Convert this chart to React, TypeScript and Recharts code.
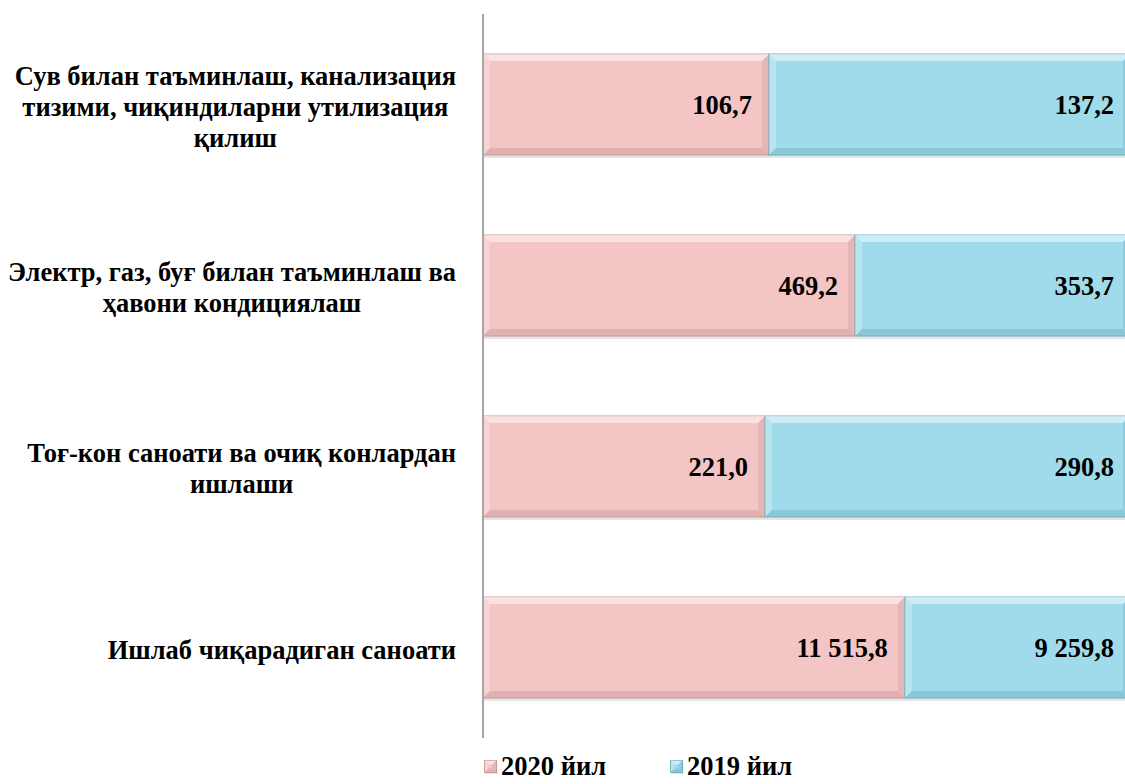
import React from 'react'
import { Bar, BarChart, XAxis, YAxis, LabelList } from 'recharts'

const categories = [
  ['Сув билан таъминлаш, канализация', 'тизими, чиқиндиларни утилизация', 'қилиш'],
  ['Электр, газ, буғ билан таъминлаш ва', 'ҳавони кондициялаш'],
  ['Тоғ-кон саноати ва очиқ конлардан', 'ишлаши'],
  ['Ишлаб чиқарадиган саноати'],
]

// bar shares (%) as drawn in the picture
const share2020 = [44.2, 57.5, 43.6, 65.2]
const share2019 = [55.8, 42.5, 56.4, 34.8]

// printed values
const labels2020 = ['106,7', '469,2', '221,0', '11 515,8']
const labels2019 = ['137,2', '353,7', '290,8', '9 259,8']

const series = [
  { key: 'y2020', name: '2020 йил', color: '#f4c5c5', dark: '#c99a9a' },
  { key: 'y2019', name: '2019 йил', color: '#a0dbeb', dark: '#6fb0c2' },
]

const FONT = '"Liberation Serif"'
const FS = 26.5

const data = categories.map((lines, i) => ({
  name: String(i),
  y2020: share2020[i],
  y2019: share2019[i],
  l2020: labels2020[i],
  l2019: labels2019[i],
}))

let ctx: CanvasRenderingContext2D | null = null
function textWidth(s: string, font: string) {
  if (!ctx) ctx = document.createElement('canvas').getContext('2d')
  if (!ctx) return s.length * 12
  ctx.font = font
  return ctx.measureText(s).width
}

const CategoryTick = (props: any) => {
  const { x, y, payload } = props
  const lines: string[] = categories[Number(payload.value)]
  const font = `bold ${FS}px ${FONT}`
  const widths = lines.map((l) => textWidth(l, font))
  const block = Math.max(...widths)
  const right = x - 19
  const cx = right - block / 2
  const lh = 31
  const top = y - ((lines.length - 1) * lh) / 2 + 5
  return (
    <text fontFamily="Liberation Serif" fontWeight="bold" fontSize={FS} fill="#000" textAnchor="middle">
      {lines.map((l, i) => (
        <tspan key={i} x={cx} y={top + i * lh} dominantBaseline="middle">
          {l}
        </tspan>
      ))}
    </text>
  )
}

const bevel = (color: string, dark: string) => (props: any) => {
  const { x, y, width, height } = props
  if (!width || width <= 0) return null
  const b = Math.min(7, width / 3)
  return (
    <g>
      <rect x={x + 1} y={y + 3} width={width} height={height} fill="#000" opacity={0.1} />
      <rect x={x} y={y} width={width} height={height} fill={color} stroke={dark} strokeWidth={1} />
      <polygon points={`${x},${y} ${x + width},${y} ${x + width - b},${y + b} ${x + b},${y + b}`} fill="#fff" opacity={0.5} />
      <polygon points={`${x},${y} ${x + b},${y + b} ${x + b},${y + height - b} ${x},${y + height}`} fill="#fff" opacity={0.25} />
      <polygon points={`${x},${y + height} ${x + b},${y + height - b} ${x + width - b},${y + height - b} ${x + width},${y + height}`} fill={dark} opacity={0.45} />
      <polygon points={`${x + width},${y} ${x + width},${y + height} ${x + width - b},${y + height - b} ${x + width - b},${y + b}`} fill={dark} opacity={0.35} />
    </g>
  )
}

const LegendRow = () => (
  <div
    style={{
      position: 'absolute',
      left: 484,
      top: 753,
      display: 'flex',
      alignItems: 'center',
      fontFamily: FONT,
      fontWeight: 'bold',
      fontSize: FS,
      lineHeight: '27px',
      color: '#000',
    }}
  >
    {series.map((s, i) => (
      <div key={s.key} style={{ display: 'flex', alignItems: 'center', marginRight: i === 0 ? 64 : 0 }}>
        <svg width={14} height={14} style={{ marginRight: 3 }}>
          {bevel(s.color, s.dark)({ x: 0.5, y: 0.5, width: 12, height: 12 })}
        </svg>
        <span>{s.name}</span>
      </div>
    ))}
  </div>
)

export default function App() {
  return (
    <div style={{ position: 'absolute', left: 0, top: 0, width: 1125, height: 784, background: '#fff', overflow: 'hidden' }}>
      <BarChart
        width={1130}
        height={784}
        data={data}
        layout="vertical"
        margin={{ top: 14, right: 0, bottom: 46, left: 0 }}
        barSize={101}
      >
        <XAxis type="number" domain={[0, 100]} hide />
        <YAxis
          type="category"
          dataKey="name"
          width={483}
          axisLine={{ stroke: '#a6a6a6', strokeWidth: 2 }}
          tickLine={false}
          tick={<CategoryTick />}
        />
        {series.map((s) => (
          <Bar
            key={s.key}
            dataKey={s.key}
            stackId="a"
            fill={s.color}
            shape={bevel(s.color, s.dark)}
            isAnimationActive={false}
          >
            <LabelList
              dataKey={s.key === 'y2020' ? 'l2020' : 'l2019'}
              position="insideRight"
              offset={s.key === 'y2020' ? 17 : 16}
              fill="#000"
              fontFamily="Liberation Serif"
              fontWeight="bold"
              fontSize={FS}
            />
          </Bar>
        ))}
      </BarChart>
      <LegendRow />
    </div>
  )
}
